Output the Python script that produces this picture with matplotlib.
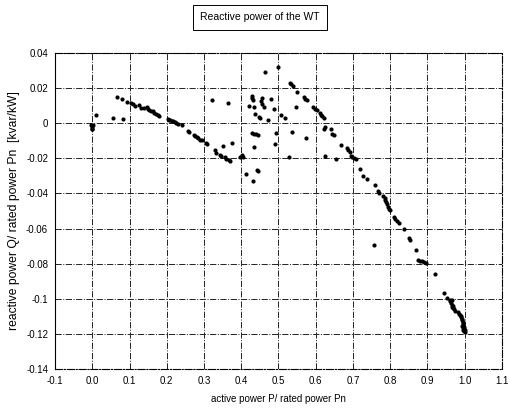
import matplotlib
matplotlib.use("Agg")
import matplotlib.pyplot as plt
from matplotlib import font_manager

# Active power (per unit of rated power) and reactive power (kvar/kW)
active_power = [
    -0.003, 0.0, -0.002, 0.0, 0.001, 0.01, 0.055, 0.082,
    0.066, 0.081, 0.092, 0.104, 0.109, 0.116, 0.126, 0.131, 0.138, 0.147,
    0.15, 0.153, 0.157, 0.162, 0.167, 0.172, 0.176, 0.18,
    0.204, 0.207, 0.21, 0.213, 0.217, 0.222, 0.226, 0.231, 0.24,
    0.256, 0.26, 0.272, 0.276, 0.28, 0.285, 0.29, 0.294, 0.305, 0.308,
    0.33, 0.331, 0.343, 0.347, 0.352, 0.357, 0.36, 0.366, 0.37, 0.375,
    0.364, 0.321, 0.397, 0.402, 0.405, 0.413, 0.431, 0.446, 0.442,
    0.428, 0.43, 0.432, 0.421, 0.435, 0.455, 0.453, 0.456, 0.46, 0.48,
    0.437, 0.449, 0.451, 0.473, 0.488, 0.506, 0.518,
    0.428, 0.434, 0.44, 0.446, 0.433, 0.494, 0.491, 0.536, 0.527,
    0.464, 0.498,
    0.532, 0.535, 0.54, 0.549, 0.569, 0.572, 0.576, 0.548,
    0.594, 0.597, 0.603, 0.612, 0.615, 0.618, 0.621, 0.626, 0.623,
    0.574, 0.626, 0.64, 0.643, 0.648, 0.655,
    0.669, 0.684, 0.688, 0.691, 0.694, 0.698, 0.703, 0.708,
    0.718, 0.728, 0.739, 0.76, 0.767, 0.771,
    0.782, 0.785, 0.787, 0.789, 0.792, 0.795, 0.797, 0.8,
    0.81, 0.814, 0.818, 0.823,
    0.836, 0.85, 0.853, 0.757,
    0.869, 0.875, 0.88, 0.886, 0.891, 0.895,
    0.921, 0.944, 0.953,
    0.96, 0.962, 0.964, 0.966, 0.967, 0.969, 0.972, 0.975, 0.97, 0.965,
    0.983, 0.985, 0.987, 0.989, 0.991, 0.993, 0.994, 0.995, 0.996, 0.997,
    0.998, 0.999, 1.0, 1.0, 0.998, 0.995, 0.993, 0.997,
]
reactive_power = [
    -0.001, -0.002, -0.003, -0.0035, -0.001, 0.0045, 0.003, 0.0027,
    0.0147, 0.0137, 0.012, 0.0118, 0.011, 0.0099, 0.0104, 0.0088, 0.0085, 0.0093,
    0.0082, 0.0074, 0.0068, 0.007, 0.006, 0.0052, 0.0046, 0.0042,
    0.0025, 0.002, 0.0016, 0.0013, 0.0011, 0.0008, 0.0004, -0.0002, -0.001,
    -0.0042, -0.0048, -0.0066, -0.0074, -0.0078, -0.0086, -0.0093, -0.0097, -0.0112, -0.0118,
    -0.0153, -0.0168, -0.018, -0.0188, -0.0127, -0.019, -0.0203, -0.0208, -0.0215, -0.011,
    0.0113, 0.013, -0.019, -0.018, -0.0195, -0.029, -0.0328, -0.0272, -0.0266,
    0.0158, 0.0145, 0.0133, 0.0099, 0.0095, 0.0143, 0.0125, 0.0108, 0.0095, 0.0138,
    0.005, 0.0033, 0.0028, 0.0019, 0.0083, 0.0047, 0.0028,
    -0.0056, -0.006, -0.0062, -0.0065, -0.0133, -0.0057, -0.012, -0.0048, -0.0195,
    0.0294, 0.032,
    0.023, 0.0222, 0.0213, 0.0176, 0.015, 0.0138, 0.013, 0.009,
    0.009, 0.0082, 0.0076, 0.0058, 0.0048, 0.004, 0.003, -0.0022, -0.003,
    -0.0086, -0.0185, -0.003, -0.006, -0.0068, -0.0202,
    -0.0125, -0.0142, -0.0152, -0.0162, -0.0184, -0.0192, -0.0198, -0.0205,
    -0.026, -0.0298, -0.032, -0.035, -0.0385, -0.0395,
    -0.0415, -0.0425, -0.0438, -0.045, -0.0462, -0.0478, -0.049, -0.0496,
    -0.0532, -0.0545, -0.0555, -0.057,
    -0.06, -0.0655, -0.0665, -0.0693,
    -0.0722, -0.0778, -0.0782, -0.0785, -0.079, -0.0798,
    -0.0858, -0.0965, -0.0998,
    -0.1005, -0.1015, -0.1025, -0.1035, -0.1045, -0.1052, -0.106, -0.107, -0.1038, -0.1008,
    -0.1075, -0.1085, -0.109, -0.1098, -0.1105, -0.1112, -0.112, -0.113, -0.114, -0.115,
    -0.116, -0.117, -0.118, -0.119, -0.1185, -0.1165, -0.1155, -0.1175,
]

x_ticks = [-0.1, 0.0, 0.1, 0.2, 0.3, 0.4, 0.5, 0.6, 0.7, 0.8, 0.9, 1.0, 1.1]
x_tick_labels = ["-0.1", "0.0", "0.1", "0.2", "0.3", "0.4", "0.5", "0.6",
                 "0.7", "0.8", "0.9", "1.0", "1.1"]
y_ticks = [0.04, 0.02, 0.0, -0.02, -0.04, -0.06, -0.08, -0.1, -0.12, -0.14]
y_tick_labels = ["0.04", "0.02", "0", "-0.02", "-0.04", "-0.06", "-0.08",
                 "-0.1", "-0.12", "-0.14"]

installed = {f.name for f in font_manager.fontManager.ttflist}
family = ["Liberation Sans Narrow"] if "Liberation Sans Narrow" in installed else []
family += ["Liberation Sans", "DejaVu Sans"]
plt.rcParams["font.family"] = family

fig = plt.figure(figsize=(5.10, 4.11), dpi=100)
ax = fig.add_axes([0.108, 0.102, 0.876, 0.769])

ax.scatter(active_power, reactive_power, s=9, color="black", linewidths=0, zorder=3)

ax.set_xlim(-0.1, 1.1)
ax.set_ylim(-0.14, 0.04)
ax.set_xticks(x_ticks)
ax.set_xticklabels(x_tick_labels)
ax.set_yticks(y_ticks)
ax.set_yticklabels(y_tick_labels)
ax.tick_params(length=0, labelsize=7, pad=5, colors="black")

ax.grid(True, color="#222222", linestyle="-.", linewidth=0.7)
for side, spine in ax.spines.items():
    spine.set_linewidth(0.8)
    spine.set_color("black")
    if side != "left":
        spine.set_linestyle("-.")

ax.set_xlabel("active power P/ rated power Pn", fontsize=7, labelpad=6)
ax.set_ylabel("reactive power Q/ rated power Pn  [kvar/kW]", fontsize=8.7, labelpad=4)

fig.text(0.51, 0.958, "Reactive power of the WT", ha="center", va="center",
         fontsize=7.5,
         bbox=dict(boxstyle="square,pad=0.7", facecolor="white",
                   edgecolor="black", linewidth=0.7))

fig.savefig("out.png", dpi=100, facecolor="white")
